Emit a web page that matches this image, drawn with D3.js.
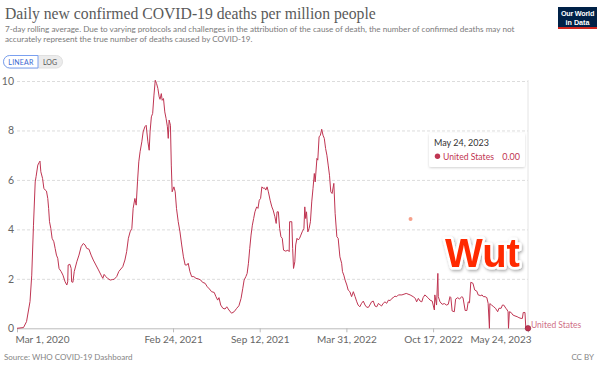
<!DOCTYPE html>
<html lang="en">
<head>
<meta charset="UTF-8" />
<title>Daily new confirmed COVID-19 deaths per million people</title>
<script src="https://d3js.org/d3.v7.min.js"></script>
<style>
  body { margin: 0; background: white; }
  svg { display: block; font-family: Lato, "Open Sans", sans-serif; }
</style>
</head>
<body>
<svg id="chart" width="600" height="366"></svg>
<script>
// Data: days since Mar 1, 2020 and daily deaths per million (7-day avg), United States
const startDate = "2020-03-01";
const dayOffset = [
  0,15,22,30,34,38,42,44,48,51,
  53,55,59,62,65,68,71,73,75,78,
  81,85,88,91,94,97,102,106,111,115,
  117,118,122,125,126,129,132,138,143,148,
  153,157,161,166,171,176,182,188,194,198,
  201,205,209,215,220,224,230,235,244,249,
  253,257,261,265,268,272,275,278,281,284,
  288,291,295,298,302,305,307,310,313,316,
  319,322,325,328,330,333,335,338,341,344,
  347,349,351,354,356,358,362,365,368,372,
  376,380,384,388,392,395,399,403,408,413,
  418,424,428,434,439,444,449,455,459,463,
  466,470,475,480,484,489,495,501,507,512,
  517,521,524,528,531,534,537,540,543,546,
  549,553,556,559,562,565,568,571,574,577,
  580,584,588,591,595,598,600,603,606,609,
  612,615,620,625,628,629,634,636,638,641,
  643,646,649,652,655,658,662,664,666,668,
  671,674,677,680,683,686,688,692,694,697,
  700,703,706,709,712,715,718,721,724,727,
  731,734,738,741,745,749,751,754,757,761,
  764,768,772,776,780,784,787,791,795,799,
  803,807,811,814,818,822,826,830,834,838,
  841,845,849,853,857,861,865,868,872,876,
  880,888,898,907,914,919,922,926,930,934,
  937,941,948,953,958,963,964,968,971,972,
  976,981,986,991,995,999,1001,1004,1009,1012,
  1017,1021,1026,1029,1034,1038,1041,1044,1047,1052,
  1056,1061,1064,1070,1073,1076,1080,1084,1087,1090,
  1091,1095,1100,1104,1109,1112,1117,1120,1123,1128,
  1131,1133,1134,1136,1140,1144,1149,1154,1158,1163,
  1166,1168,1172,1174,1179
];
const deaths = [
  0,0.03,0.27,1.08,2.15,4.17,5.92,6.13,6.6,6.7,
  6.76,6.33,6.06,5.66,5.59,5.55,5.25,4.85,4.31,4.04,
  3.64,3.5,3.23,2.96,2.83,2.42,2.29,2.15,1.88,1.75,
  1.88,2.56,2.59,2.42,1.88,1.86,2.29,2.69,2.96,3.3,
  3.43,3.37,3.23,3.2,2.96,2.76,2.56,2.36,2.15,2.02,
  2.18,2.09,2.02,1.95,1.97,1.98,2.09,2.3,2.49,2.76,
  3.1,3.64,3.9,4.04,4.85,5.25,4.98,5.92,6.73,7.14,
  7.54,7.94,8.15,8.21,7.54,7.2,7.94,8.55,8.69,9.43,
  10.03,9.9,9.7,9.36,9.26,9.49,9.22,9.29,8.75,8.48,
  8.15,7.68,8.42,8.21,6.6,5.52,5.72,5.52,4.85,4.31,
  3.9,3.37,2.89,2.56,2.56,2.63,2.29,2.09,2.09,2.02,
  2.0,1.95,1.86,1.82,1.68,1.59,1.48,1.45,1.28,1.14,
  1.24,0.94,0.81,0.78,0.87,0.74,0.61,0.67,0.81,0.91,
  1.21,1.62,1.95,2.09,2.22,2.63,3.23,3.77,4.17,4.44,
  4.71,4.91,4.85,5.18,5.25,5.72,5.66,5.68,5.59,5.72,
  5.52,5.18,4.91,4.78,4.51,4.24,4.71,4.71,4.04,3.7,
  3.64,3.16,3.12,3.16,3.1,4.31,4.31,3.23,2.42,2.69,
  3.37,3.64,3.57,3.64,3.77,3.9,4.04,4.91,4.44,4.71,
  3.9,4.04,4.31,5.11,5.66,6.26,5.92,6.87,6.8,7.74,
  7.81,8.05,7.81,7.68,7.27,7.0,6.6,6.19,5.52,5.45,
  5.86,4.65,3.7,3.64,2.89,2.63,2.29,2.15,1.95,1.75,
  1.55,1.48,1.28,1.48,1.28,1.07,0.94,0.87,1.01,1.1,
  0.94,0.85,0.85,0.94,1.07,1.1,0.9,0.87,1.01,0.94,
  0.9,1.01,1.07,1.01,1.14,1.12,1.21,1.24,1.3,1.28,
  1.35,1.35,1.41,1.35,1.28,1.21,1.07,1.21,1.1,1.07,
  1.24,1.35,1.24,1.14,1.1,0.74,1.35,0.94,2.22,1.28,
  1.07,0.97,1.0,0.94,0.97,1.28,1.24,0.7,0.67,1.18,
  1.24,1.18,1.28,1.24,0.72,0.72,1.07,1.03,1.86,1.82,
  1.55,1.5,1.35,1.32,1.35,1.28,1.28,1.24,1.01,0,
  1.0,0.94,0.87,0.81,0.67,0.81,0.81,0.94,0.94,0.81,
  0.74,0.67,0,0.67,0.64,0.54,0.5,0.47,0.43,0.4,
  0.4,0.64,0.64,0,0
];
// stray hover marker left on the screenshot
const strayDay = [908];
const strayValue = [4.42];

const xTickDates = ["2020-03-01", "2021-02-24", "2021-09-12", "2022-03-31", "2022-10-17", "2023-05-24"];
const yTicks = [0, 2, 4, 6, 8, 10];

const parse = d3.timeParse("%Y-%m-%d");
const t0 = parse(startDate);
const series = dayOffset.map((d, i) => ({ date: d3.timeDay.offset(t0, d), value: deaths[i] }));
const last = series[series.length - 1];

const svg = d3.select("#chart");
const lineColor = "#bf3552";

const x = d3.scaleTime()
  .domain([t0, parse(xTickDates[xTickDates.length - 1])])
  .range([17, 528]);
const y = d3.scaleLinear().domain([0, 10]).range([328.3, 81]);

// fit a text element to a target width by changing its font size
function fitWidth(sel, w) {
  const cur = sel.node().getComputedTextLength();
  const fs = parseFloat(sel.attr("font-size"));
  sel.attr("font-size", fs * w / cur);
  return fs * w / cur;
}

// header
const title = svg.append("text")
  .attr("x", 5).attr("y", 19)
  .attr("font-family", "'Liberation Serif', 'DejaVu Serif', serif")
  .attr("font-size", 16)
  .attr("fill", "#5a5a5a")
  .text("Daily new confirmed COVID-19 deaths per million people");
fitWidth(title, 371);

const sub1 = svg.append("text")
  .attr("x", 5).attr("y", 31.5)
  .attr("font-size", 9)
  .attr("fill", "#7a7a7a")
  .text("7-day rolling average. Due to varying protocols and challenges in the attribution of the cause of death, the number of confirmed deaths may not");
const subSize = fitWidth(sub1, 510);
svg.append("text")
  .attr("x", 5).attr("y", 42)
  .attr("font-size", subSize)
  .attr("fill", "#7a7a7a")
  .text("accurately represent the true number of deaths caused by COVID-19.");

// linear / log toggle
const tog = svg.append("g");
tog.append("rect").attr("x", 3.5).attr("y", 55.5).attr("width", 59).attr("height", 12.5)
  .attr("rx", 6.25).attr("fill", "#ececec").attr("stroke", "#e0e0e0");
tog.append("path")
  .attr("d", "M38,55.5 H9.75 A6.25,6.25 0 0 0 9.75,68 H38 Z")
  .attr("fill", "white").attr("stroke", "#7aa0f0");
tog.append("text").attr("x", 21).attr("y", 64.5).attr("text-anchor", "middle")
  .attr("font-size", 7).attr("fill", "#3a68d0").attr("letter-spacing", 0.2).text("LINEAR");
tog.append("text").attr("x", 50).attr("y", 64.5).attr("text-anchor", "middle")
  .attr("font-size", 7).attr("fill", "#555").text("LOG");

// OWID logo
const logo = svg.append("g");
logo.append("rect").attr("x", 558).attr("y", 7).attr("width", 39).attr("height", 22).attr("fill", "#002147");
logo.append("rect").attr("x", 558).attr("y", 27).attr("width", 39).attr("height", 2).attr("fill", "#ce261e");
logo.append("text").attr("x", 577.5).attr("y", 16).attr("text-anchor", "middle")
  .attr("font-family", "'Liberation Sans', Arial, sans-serif").attr("font-weight", "bold")
  .attr("font-size", 7.2).attr("fill", "white").attr("letter-spacing", -0.2).text("Our World");
logo.append("text").attr("x", 577.5).attr("y", 24.5).attr("text-anchor", "middle")
  .attr("font-family", "'Liberation Sans', Arial, sans-serif").attr("font-weight", "bold")
  .attr("font-size", 7.2).attr("fill", "white").text("in Data");

// y grid + labels
const yAxis = svg.append("g")
  .attr("transform", "translate(17,0)")
  .call(d3.axisLeft(y).tickValues(yTicks).tickSize(-511).tickFormat(d3.format("d")));
yAxis.select(".domain").remove();
yAxis.selectAll(".tick line")
  .attr("stroke", "#dcdcdc").attr("stroke-dasharray", "3,2")
  .attr("display", d => d === 0 ? "none" : null);
yAxis.selectAll(".tick text")
  .attr("x", -3).attr("fill", "#666").attr("font-size", 10.5).attr("font-family", "Lato, sans-serif");

// right edge hover line
svg.append("line").attr("x1", 528).attr("x2", 528).attr("y1", 80).attr("y2", 328)
  .attr("stroke", "#e4e4e4");

// x axis
const xAxis = svg.append("g")
  .attr("transform", "translate(0,328.3)")
  .call(d3.axisBottom(x)
    .tickValues(xTickDates.map(parse))
    .tickSize(4)
    .tickSizeOuter(0)
    .tickFormat(d3.timeFormat("%b %-d, %Y")));
xAxis.select(".domain").attr("stroke", "#bbb");
xAxis.selectAll(".tick line").attr("stroke", "#bbb");
xAxis.selectAll(".tick text")
  .attr("y", 8).attr("fill", "#666").attr("font-size", 10).attr("font-family", "Lato, sans-serif")
  .attr("text-anchor", (d, i) => i === 0 ? "start" : (i === xTickDates.length - 1 ? "end" : "middle"))
  .attr("dx", (d, i) => i === 0 ? -2 : (i === xTickDates.length - 1 ? 3 : 0));

// line
const line = d3.line().x(d => x(d.date)).y(d => y(d.value));
svg.append("path")
  .datum(series)
  .attr("fill", "none")
  .attr("stroke", lineColor)
  .attr("stroke-width", 1)
  .attr("stroke-linejoin", "round")
  .attr("d", line);

// stray marker
svg.selectAll(".stray")
  .data(strayDay.map((d, i) => ({ date: d3.timeDay.offset(t0, d), value: strayValue[i] })))
  .enter().append("circle")
  .attr("cx", d => x(d.date)).attr("cy", d => y(d.value)).attr("r", 2)
  .attr("fill", "#f6a08a");

// end point + label
svg.append("circle").attr("cx", x(last.date)).attr("cy", y(last.value)).attr("r", 2.8)
  .attr("fill", lineColor).attr("stroke", "#8e1f3a").attr("stroke-width", 0.6);
svg.append("text").attr("x", x(last.date) + 3).attr("y", y(last.value) - 0.5)
  .attr("font-size", 8.5).attr("fill", "#cf6f86").text("United States");

// tooltip
const tip = svg.append("g");
const defs = svg.append("defs");
const shadow = defs.append("filter").attr("id", "tipShadow").attr("x", "-10%").attr("y", "-20%")
  .attr("width", "130%").attr("height", "150%");
shadow.append("feDropShadow").attr("dx", 0).attr("dy", 1).attr("stdDeviation", 1.2)
  .attr("flood-color", "#000").attr("flood-opacity", 0.18);
tip.append("rect").attr("x", 429).attr("y", 133).attr("width", 96).attr("height", 34)
  .attr("rx", 2).attr("fill", "white").attr("filter", "url(#tipShadow)");
tip.append("text").attr("x", 434).attr("y", 146).attr("font-size", 9).attr("fill", "#333")
  .text(d3.timeFormat("%b %-d, %Y")(last.date));
tip.append("circle").attr("cx", 437.5).attr("cy", 156.3).attr("r", 2.7).attr("fill", lineColor);
const tipName = tip.append("text").attr("x", 443).attr("y", 159.5).attr("font-size", 9).attr("fill", lineColor)
  .text("United States");
fitWidth(tipName, 51);
tip.append("text").attr("x", 520).attr("y", 159.5).attr("text-anchor", "end").attr("font-size", 9)
  .attr("fill", lineColor).text(d3.format(".2f")(last.value));

// "Wut" annotation
const wf = defs.append("filter").attr("id", "wutShadow").attr("x", "-20%").attr("y", "-30%")
  .attr("width", "140%").attr("height", "160%");
wf.append("feDropShadow").attr("dx", 1).attr("dy", 1.5).attr("stdDeviation", 1.5)
  .attr("flood-color", "#000").attr("flood-opacity", 0.35);
svg.append("text").attr("x", 482.5).attr("y", 266.5).attr("text-anchor", "middle")
  .attr("font-family", "'Liberation Sans', Arial, sans-serif").attr("font-weight", "bold")
  .attr("font-size", 40).attr("fill", "#ff2a00")
  .attr("stroke", "white").attr("stroke-width", 5).attr("stroke-linejoin", "round")
  .attr("paint-order", "stroke").attr("filter", "url(#wutShadow)")
  .text("Wut");

// footer
svg.append("text").attr("x", 4).attr("y", 360).attr("font-size", 8).attr("fill", "#858585")
  .text("Source: WHO COVID-19 Dashboard");
svg.append("text").attr("x", 594).attr("y", 360).attr("text-anchor", "end").attr("font-size", 8)
  .attr("fill", "#858585").text("CC BY");
</script>
</body>
</html>
